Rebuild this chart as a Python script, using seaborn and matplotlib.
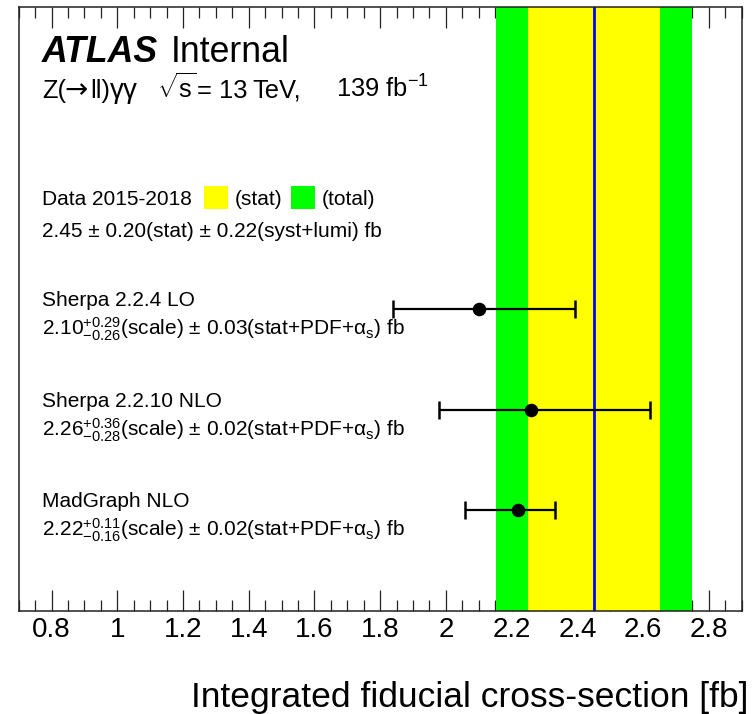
import numpy as np
import pandas as pd
import matplotlib
matplotlib.use("Agg")
import matplotlib.pyplot as plt
import matplotlib.transforms as mtransforms
from matplotlib.patches import Rectangle
from matplotlib.ticker import FixedLocator, FixedFormatter, MultipleLocator
import seaborn as sns

# ---- theory predictions -------------------------------------------------
generators = ["Sherpa 2.2.4 LO", "Sherpa 2.2.10 NLO", "MadGraph NLO"]
xsec = [2.10, 2.26, 2.22]
scale_up = [0.29, 0.36, 0.11]
scale_down = [0.26, 0.28, 0.16]
stat_pdf = [0.03, 0.02, 0.02]

# ---- measurement --------------------------------------------------------
data_label = "Data 2015-2018"
data_xsec = 2.45
data_stat = 0.20
data_syst = 0.22

# ---- axis ---------------------------------------------------------------
tick_values = [0.8, 1.0, 1.2, 1.4, 1.6, 1.8, 2.0, 2.2, 2.4, 2.6, 2.8]
tick_labels = ["0.8", "1", "1.2", "1.4", "1.6", "1.8", "2", "2.2", "2.4", "2.6", "2.8"]
x_title = "Integrated fiducial cross-section [fb]"

sns.set_theme(style="ticks")
plt.rcParams["font.family"] = ["Liberation Sans", "DejaVu Sans"]
plt.rcParams["mathtext.fontset"] = "custom"
plt.rcParams["mathtext.rm"] = "Liberation Sans"
plt.rcParams["mathtext.it"] = "Liberation Sans:italic"
plt.rcParams["mathtext.bf"] = "Liberation Sans:bold"
plt.rcParams["mathtext.default"] = "regular"
plt.rcParams["text.color"] = "black"
plt.rcParams["axes.labelcolor"] = "black"
plt.rcParams["xtick.color"] = "black"

fig = plt.figure(figsize=(7.56, 7.14), dpi=100)
ax = fig.add_axes([0.0247, 0.1443, 0.9564, 0.8455])

# one row per prediction, measurement row above them
rows = list(range(len(generators), 0, -1))
data_row = len(generators) + 1

# measurement bands: total (green) behind stat (yellow), central value in blue
data_total = float(np.hypot(data_stat, data_syst))
ax.axvspan(data_xsec - data_total, data_xsec + data_total, color="#00ff00", lw=0, zorder=1)
ax.axvspan(data_xsec - data_stat, data_xsec + data_stat, color="#ffff00", lw=0, zorder=1.1)
ax.axvline(data_xsec, color="#0000ff", lw=2.0, zorder=1.2)

# predictions with combined (scale + stat/PDF) uncertainties
df = pd.DataFrame({
    "generator": generators,
    "xsec": xsec,
    "row": rows,
    "err_lo": np.hypot(scale_down, stat_pdf),
    "err_hi": np.hypot(scale_up, stat_pdf),
})
ax.errorbar(df["xsec"], df["row"], xerr=[df["err_lo"], df["err_hi"]], fmt="none",
            ecolor="black", elinewidth=1.6, capsize=6.5, capthick=1.8, zorder=3)
sns.scatterplot(data=df, x="xsec", y="row", color="black", s=95, edgecolor="black",
                linewidth=0, zorder=4, ax=ax, legend=False)

ax.set_xlim(0.7, 2.9)
ax.set_ylim(0, 6)
ax.set_ylabel("")
ax.set_yticks([])
ax.xaxis.set_major_locator(FixedLocator(tick_values))
ax.xaxis.set_major_formatter(FixedFormatter(tick_labels))
ax.xaxis.set_minor_locator(MultipleLocator(0.05))
ax.tick_params(axis="x", which="major", direction="in", length=15, width=0.9,
               top=True, bottom=True, labelsize=20, pad=4, color="#222222",
               labelcolor="black")
ax.tick_params(axis="x", which="minor", direction="in", length=8, width=0.9,
               top=True, bottom=True, color="#222222")
for sp in ax.spines.values():
    sp.set_visible(True)
    sp.set_linewidth(1.1)
    sp.set_color("#222222")

ax.set_xlabel(x_title, fontsize=25.5, ha="right", va="baseline", color="black")
ax.xaxis.set_label_coords(1.0087, -0.159)

# text blocks: x in axes fraction, y in data rows
trans = mtransforms.blended_transform_factory(ax.transAxes, ax.transData)
tx = 0.032


def px_to_ax(px):
    """Horizontal pixel position in the figure -> axes fraction."""
    return (px - 18.7) / 723.0


atlas = ax.text(tx, 5.46, "ATLAS", transform=trans, fontsize=25.7, fontweight="bold",
                fontstyle="italic", va="baseline")
ax.annotate("Internal", xy=(1, 0), xycoords=atlas, xytext=(9, 0),
            textcoords="offset points", fontsize=25.7, va="bottom")

# process / energy / luminosity line, set in pieces
z_pieces = [
    (42, "Z(", None, 18.4),
    (64, "→", ["DejaVu Sans"], 20),
    (90, "ll)", None, 18.4),
    (109, r"$\gamma\gamma$", None, 20),
    (157, r"$\sqrt{s}$", None, 18.4),
    (197, "= 13", None, 18.4),
    (252, "TeV,", None, 18.4),
    (336, r"139 fb$^{-1}$", None, 18.4),
]
for px, s, fam, fs in z_pieces:
    kw = {"family": fam} if fam else {}
    ax.text(px_to_ax(px), 5.10, s, transform=trans, fontsize=fs, va="baseline", **kw)

# measurement legend
ax.text(tx, data_row + 0.03, data_label, transform=trans, fontsize=15, va="baseline")
ax.add_patch(Rectangle((0.2563, data_row), 0.0332, 0.22, transform=trans,
                       facecolor="#ffff00", edgecolor="none", zorder=5))
ax.text(0.299, data_row + 0.03, "(stat)", transform=trans, fontsize=15, va="baseline")
ax.add_patch(Rectangle((0.3766, data_row), 0.0332, 0.22, transform=trans,
                       facecolor="#00ff00", edgecolor="none", zorder=5))
ax.text(0.4195, data_row + 0.03, "(total)", transform=trans, fontsize=15, va="baseline")
ax.text(tx, data_row - 0.28,
        f"{data_xsec:.2f} ± {data_stat:.2f}(stat) ± {data_syst:.2f}(syst+lumi) fb",
        transform=trans, fontsize=15, va="baseline")

for name, c, up, dn, sp, r in zip(generators, xsec, scale_up, scale_down, stat_pdf, rows):
    ax.text(tx, r + 0.03, name, transform=trans, fontsize=15, va="baseline")
    ax.text(tx, r - 0.26,
            f"${c:.2f}^{{+{up:.2f}}}_{{-{dn:.2f}}}$(scale) ± {sp:.2f}(stat+PDF+$\\alpha_s$) fb",
            transform=trans, fontsize=15, va="baseline")

fig.savefig("out.png", dpi=100)
